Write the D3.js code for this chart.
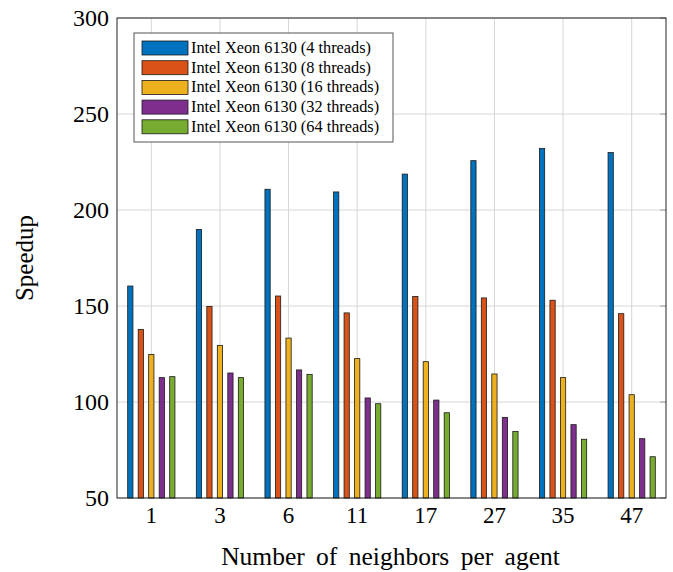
<html>
<script src="https://d3js.org/d3.v7.min.js"></script>
<style>
body {margin: 0; background: white;}
text {font-family: "Liberation Serif", "DejaVu Serif", serif; fill: black;}
</style>
<body>
<svg id="chart" width="673" height="572"></svg>
<script>
// data
var categories = ["1", "3", "6", "11", "17", "27", "35", "47"];
var seriesNames = [
    "Intel Xeon 6130 (4 threads)",
    "Intel Xeon 6130 (8 threads)",
    "Intel Xeon 6130 (16 threads)",
    "Intel Xeon 6130 (32 threads)",
    "Intel Xeon 6130 (64 threads)"
];
var threads4  = [160.4, 189.9, 210.8, 209.4, 218.7, 225.7, 232.1, 229.9];
var threads8  = [137.8, 149.8, 155.2, 146.4, 155.0, 154.2, 153.0, 146.0];
var threads16 = [124.8, 129.5, 133.3, 122.6, 121.0, 114.6, 112.7, 103.8];
var threads32 = [112.7, 115.1, 116.7, 102.1, 101.0, 92.0, 88.2, 80.9];
var threads64 = [113.2, 112.7, 114.4, 99.1, 94.4, 84.7, 80.6, 71.5];
var yTicks = [50, 100, 150, 200, 250, 300];
var colors = ["#0072BD", "#D95319", "#EDB120", "#7E2F8E", "#77AC30"];

function draw() {
    var allSeries = [threads4, threads8, threads16, threads32, threads64];

    //layout
    var left = 117, right = 666, plotTop = 18, plotBottom = 498;
    var svg = d3.select("#chart");

    //scales
    var xscale = d3.scaleBand().domain(categories).range([left, right]).padding(0);
    var xinner = d3.scaleBand().domain(seriesNames).range([-26.25, 26.25]).paddingInner(0.5).paddingOuter(0.25);
    var yscale = d3.scaleLinear().domain([50, 300]).range([plotBottom, plotTop]);

    //grid
    var grid = svg.append("g");
    grid.selectAll("line.gy").data(yTicks).enter().append("line")
        .attr("x1", left).attr("x2", right)
        .attr("y1", function(d) {return yscale(d);}).attr("y2", function(d) {return yscale(d);})
        .style("stroke", "#d6d6d6").style("stroke-width", 1);
    grid.selectAll("line.gx").data(categories).enter().append("line")
        .attr("x1", function(d) {return xscale(d) + xscale.bandwidth()/2;})
        .attr("x2", function(d) {return xscale(d) + xscale.bandwidth()/2;})
        .attr("y1", plotTop).attr("y2", plotBottom)
        .style("stroke", "#d6d6d6").style("stroke-width", 1);

    //bars
    allSeries.forEach(function(vals, s) {
        svg.append("g").selectAll("rect").data(vals).enter().append("rect")
            .attr("x", function(d, i) {return xscale(categories[i]) + xscale.bandwidth()/2 + xinner(seriesNames[s]);})
            .attr("width", xinner.bandwidth())
            .attr("y", function(d) {return yscale(d);})
            .attr("height", function(d) {return yscale(50) - yscale(d);})
            .style("fill", colors[s])
            .style("stroke", "#1a1a1a")
            .style("stroke-width", 0.8);
    });

    //axes
    var yAxis = svg.append("g")
        .attr("transform", "translate(" + left + ",0)")
        .call(d3.axisLeft(yscale).tickValues(yTicks).tickSize(0).tickPadding(8));
    yAxis.select(".domain").remove();
    yAxis.selectAll("text").style("font-size", "24px").style("font-family", "Liberation Serif, serif");

    var xAxis = svg.append("g")
        .attr("transform", "translate(0," + plotBottom + ")")
        .call(d3.axisBottom(xscale).tickSize(0).tickPadding(9));
    xAxis.select(".domain").remove();
    xAxis.selectAll("text").style("font-size", "23px").style("font-family", "Liberation Serif, serif");

    // right side inward ticks
    svg.append("g").selectAll("line").data(yTicks).enter().append("line")
        .attr("x1", right - 6).attr("x2", right)
        .attr("y1", function(d) {return yscale(d);}).attr("y2", function(d) {return yscale(d);})
        .style("stroke", "#999");

    //frame
    svg.append("rect")
        .attr("x", left).attr("y", plotTop)
        .attr("width", right - left).attr("height", plotBottom - plotTop)
        .style("fill", "none").style("stroke", "#222").style("stroke-width", 1);

    //labels
    svg.append("text")
        .attr("x", (left + right) / 2 - 1)
        .attr("y", 565)
        .attr("text-anchor", "middle")
        .style("font-size", "25.5px")
        .style("word-spacing", "5px")
        .text("Number of neighbors per agent");

    svg.append("text")
        .attr("transform", "translate(33," + ((plotTop + plotBottom) / 2) + ") rotate(-90)")
        .attr("text-anchor", "middle")
        .style("font-size", "25px")
        .text("Speedup");

    //legend
    var lx = 134, ly = 33;
    var legend = svg.append("g");
    legend.append("rect")
        .attr("x", lx).attr("y", ly).attr("width", 259).attr("height", 109)
        .style("fill", "white").style("stroke", "#555").style("stroke-width", 1);
    seriesNames.forEach(function(name, i) {
        var yy = ly + 8 + i * 19.7;
        legend.append("rect")
            .attr("x", lx + 8).attr("y", yy).attr("width", 46).attr("height", 14)
            .style("fill", colors[i]).style("stroke", "#1a1a1a").style("stroke-width", 0.8);
        legend.append("text")
            .attr("x", lx + 57).attr("y", yy + 12)
            .style("font-size", "16.3px")
            .text(name);
    });
}
draw();
</script>
</body>
</html>
